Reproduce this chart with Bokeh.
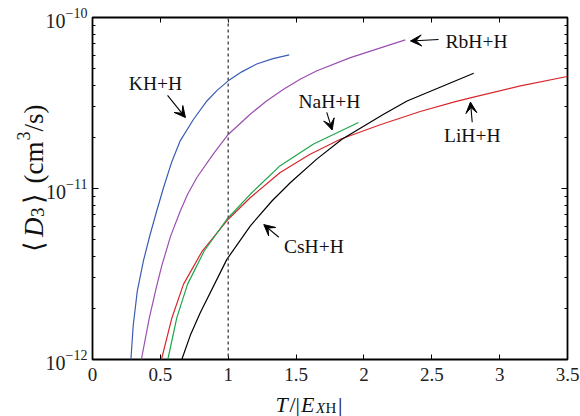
import math
from bokeh.plotting import figure
from bokeh.models import (LinearAxis, LogAxis, FixedTicker, Span, Label, Arrow,
                          VeeHead, Range1d, ColumnDataSource)
from bokeh.core.properties import value
from bokeh.embed import file_html
from bokeh.resources import INLINE

# ---------------- data ----------------
T_KH = [0.283, 0.30, 0.33, 0.376, 0.425, 0.47, 0.523, 0.584, 0.646, 0.746, 0.843,
        0.92, 1.0, 1.1, 1.21, 1.33, 1.45]
D_KH = [1.00e-12, 1.58e-12, 2.51e-12, 3.80e-12, 5.40e-12, 7.24e-12, 1.01e-11,
        1.43e-11, 1.90e-11, 2.55e-11, 3.25e-11, 3.76e-11, 4.26e-11, 4.81e-11,
        5.35e-11, 5.75e-11, 6.05e-11]

T_RbH = [0.36, 0.418, 0.47, 0.511, 0.575, 0.646, 0.70, 0.769, 0.892, 1.0, 1.162,
         1.28, 1.408, 1.53, 1.654, 1.90, 2.145, 2.305]
D_RbH = [1.00e-12, 1.74e-12, 2.63e-12, 3.55e-12, 5.25e-12, 7.36e-12, 9.23e-12,
         1.16e-11, 1.60e-11, 2.07e-11, 2.72e-11, 3.24e-11, 3.81e-11, 4.35e-11,
         4.88e-11, 5.83e-11, 6.73e-11, 7.40e-11]

T_LiH = [0.508, 0.585, 0.67, 0.806, 1.0, 1.162, 1.383, 1.60, 1.826, 2.12, 2.415,
         2.674, 2.785, 3.153, 3.498]
D_LiH = [1.00e-12, 1.75e-12, 2.75e-12, 4.27e-12, 6.61e-12, 8.83e-12, 1.24e-11,
         1.58e-11, 1.94e-11, 2.36e-11, 2.82e-11, 3.22e-11, 3.39e-11, 3.98e-11,
         4.52e-11]

T_NaH = [0.555, 0.621, 0.70, 0.823, 0.99, 1.162, 1.383, 1.629, 1.96]
D_NaH = [1.00e-12, 1.75e-12, 2.75e-12, 4.31e-12, 6.61e-12, 9.25e-12, 1.36e-11,
         1.82e-11, 2.43e-11]

T_CsH = [0.658, 0.72, 0.793, 0.99, 1.162, 1.322, 1.457, 1.65, 1.838, 2.145,
         2.318, 2.809]
D_CsH = [1.00e-12, 1.38e-12, 1.87e-12, 3.85e-12, 6.03e-12, 8.45e-12, 1.08e-11,
         1.48e-11, 1.94e-11, 2.72e-11, 3.25e-11, 4.72e-11]

x_ticks = [0, 0.5, 1, 1.5, 2, 2.5, 3, 3.5]
x_tick_labels = ["0", "0.5", "1", "1.5", "2", "2.5", "3", "3.5"]
y_major_ticks = [1e-12, 1e-11, 1e-10]

# annotation labels (data coords) and arrows (tail -> tip)
ann_text = ["KH+H", "RbH+H", "NaH+H", "LiH+H", "CsH+H"]
ann_x = [0.464, 2.83, 1.746, 2.798, 1.631]
ann_y = [4.09e-11, 7.26e-11, 3.24e-11, 2.04e-11, 4.60e-12]
arr_x0 = [0.553, 2.55, 1.726, 2.798, 1.373]
arr_y0 = [3.50e-11, 7.43e-11, 2.79e-11, 2.44e-11, 5.19e-12]
arr_x1 = [0.685, 2.343, 1.766, 2.785, 1.262]
arr_y1 = [2.60e-11, 7.29e-11, 2.20e-11, 3.20e-11, 6.15e-12]

# axis-title pieces: text, position along the title (page px), size, style, offset
x_title = [("T", 275, 22, "italic", 0), ("/|", 289, 22, "normal", 0),
           ("E", 300.5, 22, "italic", 0), ("X", 315.5, 15, "italic", 3),
           ("H", 325, 15, "normal", 3), ("|", 337.5, 22, "normal", 0)]
y_title = [("⟨", 251, 27, "normal", 0), ("D", 236.5, 27, "italic", 0),
           ("3", 216.5, 19, "normal", 4), ("⟩", 203.5, 27, "normal", 0),
           ("(cm", 183, 27, "normal", 0), ("3", 140, 18, "normal", -10),
           ("/s)", 131, 27, "normal", 0)]

SERIF = "Liberation Serif"

# ---------------- geometry ----------------
PAGE_W, PAGE_H = 580, 416
BL, BT, BR, BB = 92, 17, 13, 57
XMIN, XMAX = 0.0, 3.5
YMIN, YMAX = 1e-12, 1e-10

p = figure(width=PAGE_W, height=PAGE_H,
           x_range=Range1d(XMIN, XMAX), y_range=Range1d(YMIN, YMAX),
           y_axis_type="log", output_backend="svg", toolbar_location=None,
           min_border_left=BL, min_border_right=BR, min_border_top=BT,
           min_border_bottom=BB)
p.grid.visible = False
p.background_fill_color = "white"
p.border_fill_color = None
p.outline_line_color = "black"
p.outline_line_width = 1.8

# log minor tick positions (2..9 in each decade)
y_minor_ticks = [m * d for d in y_major_ticks[:-1] for m in range(2, 10)]


def style_axis(ax, labels=True):
    ax.axis_label = None
    ax.axis_line_color = None
    ax.major_tick_in = 6
    ax.major_tick_out = 0
    ax.major_tick_line_width = 1
    ax.minor_tick_in = 3
    ax.minor_tick_out = 0
    ax.major_label_text_font = SERIF
    if labels:
        ax.major_label_text_font_size = "19px"
        ax.major_label_text_color = "#222222"
    else:
        ax.major_label_text_font_size = "1px"
        ax.major_label_text_color = None
        ax.major_label_standoff = 0


xb = p.xaxis[0]
xb.ticker = FixedTicker(ticks=x_ticks, minor_ticks=[])
xb.major_label_overrides = dict(zip([float(t) for t in x_ticks], x_tick_labels))
style_axis(xb)
xb.major_tick_in = 5
xb.major_label_standoff = 8

yl = p.yaxis[0]
yl.ticker = FixedTicker(ticks=y_major_ticks, minor_ticks=y_minor_ticks)
style_axis(yl)
yl.major_label_text_font_size = "20px"
yl.major_label_standoff = 5

xt = LinearAxis(ticker=FixedTicker(ticks=x_ticks, minor_ticks=[]))
style_axis(xt, labels=False)
xt.major_tick_in = 5
p.add_layout(xt, "above")

yr = LogAxis(ticker=FixedTicker(ticks=y_major_ticks, minor_ticks=y_minor_ticks))
style_axis(yr, labels=False)
p.add_layout(yr, "right")

# curves
p.line(T_RbH, D_RbH, line_color="#9b4fb2", line_width=1.2)
p.line(T_KH, D_KH, line_color="#3a5cb4", line_width=1.2)
p.line(T_LiH, D_LiH, line_color="#d9262b", line_width=1.2)
p.line(T_NaH, D_NaH, line_color="#1ca64c", line_width=1.2)
p.line(T_CsH, D_CsH, line_color="black", line_width=1.2)

p.add_layout(Span(location=1.0, dimension="height", line_color="#555555",
                  line_width=1.5, line_dash="3 3"))

for t, x, y in zip(ann_text, ann_x, ann_y):
    p.add_layout(Label(x=x, y=y, text=t, text_font=SERIF, text_font_size="19.5px",
                       text_align="center", text_baseline="alphabetic",
                       text_color="#111111"))
for x0, y0, x1, y1 in zip(arr_x0, arr_y0, arr_x1, arr_y1):
    p.add_layout(Arrow(x_start=x0, y_start=y0, x_end=x1, y_end=y1,
                       line_color="black", line_width=1.1,
                       end=VeeHead(size=11, fill_color="black", line_color="black",
                                   line_width=1)))

# ---------- transparent overlay (separate root, page-pixel coords) for the axis titles ----------
ov = figure(width=PAGE_W, height=PAGE_H, x_range=Range1d(0, PAGE_W),
            y_range=Range1d(0, PAGE_H), output_backend="svg", toolbar_location=None,
            x_axis_location=None, y_axis_location=None, min_border=0)
ov.grid.visible = False
ov.outline_line_color = None
ov.background_fill_color = None
ov.border_fill_color = None
ov.margin = (-PAGE_H, 0, 0, 0)

YT_BASE = 33
ysrc = ColumnDataSource(dict(
    x=[YT_BASE + t[4] for t in y_title],
    y=[PAGE_H - t[1] for t in y_title],
    text=[t[0] for t in y_title],
    size=[f"{t[2]}px" for t in y_title],
    style=[t[3] for t in y_title]))
ov.text(x="x", y="y", text="text", source=ysrc, text_font=value(SERIF),
        text_font_size="size", text_font_style="style", angle=math.pi / 2,
        text_align="left", text_baseline="alphabetic", text_color="#111111")

XT_BASE = 404
xsrc = ColumnDataSource(dict(
    x=[t[1] for t in x_title],
    y=[PAGE_H - (XT_BASE + t[4]) for t in x_title],
    text=[t[0] for t in x_title],
    size=[f"{t[2]}px" for t in x_title],
    style=[t[3] for t in x_title]))
ov.text(x="x", y="y", text="text", source=xsrc, text_font=value(SERIF),
        text_font_size="size", text_font_style="style",
        text_align="left", text_baseline="alphabetic", text_color="#111111")

open("out.html", "w").write(file_html([p, ov], INLINE))
